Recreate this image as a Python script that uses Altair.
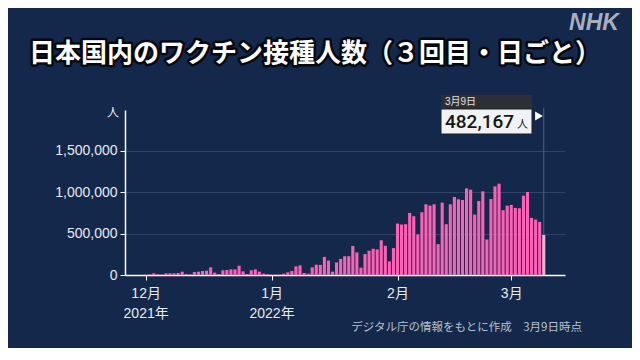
import altair as alt
import pandas as pd

# ---- data ----
start_date = "2021-12-01"
dec_values = [3000, 5000, 20000, 8000, 4000, 20000, 20000, 20000, 24000, 40000,
              12000, 6000, 36000, 40000, 48000, 52000, 92000, 28000, 12000, 56000,
              60000, 68000, 68000, 112000, 44000, 12000, 56000, 68000, 40000, 16000, 8000]
jan_values = [2000, 2000, 4000, 16000, 32000, 48000, 104000, 116000, 24000, 16000,
              92000, 124000, 122000, 218000, 174000, 40000, 152000, 194000, 226000, 226000,
              350000, 272000, 88000, 252000, 292000, 316000, 308000, 420000, 352000, 164000, 324000]
feb_values = [620000, 608000, 612000, 748000, 708000, 488000, 756000, 852000, 836000, 852000,
              372000, 872000, 612000, 852000, 940000, 912000, 904000, 1044000, 1028000, 728000,
              892000, 1008000, 428000, 916000, 1068000, 1100000, 780000, 836000]
mar_values = [844000, 808000, 804000, 956000, 1000000, 688000, 668000, 640000, 482167]

y_ticks = [0, 500000, 1000000, 1500000]
month_ticks = ["2021-12-01", "2022-01-01", "2022-02-01", "2022-03-01"]

title_text = "日本国内のワクチン接種人数（３回目・日ごと）"
source_text = "デジタル庁の情報をもとに作成　3月9日時点"
unit_text = "人"
logo_text = "NHK"
callout_date = "3月9日"
callout_value = "482,167"

values = dec_values + jan_values + feb_values + mar_values
dates = pd.date_range(start_date, periods=len(values), freq="D")
df = pd.DataFrame({
    "date": [d.strftime("%Y-%m-%dT00:00:00Z") for d in dates],
    "value": values,
    "hl": ["n"] * (len(values) - 1) + ["y"],
})
last = df.iloc[[-1]].reset_index(drop=True)

def ms(s):
    return int(pd.Timestamp(s).value // 10**6)

x_domain = [ms("2021-11-27T03:36:00Z"), ms("2022-03-13T00:00:00Z")]
FONT = "Liberation Sans, Noto Sans CJK JP"

xenc = alt.X(
    "date:T",
    scale=alt.Scale(type="utc", domain=x_domain),
    axis=alt.Axis(
        title=None,
        values=[ms(m + "T00:00:00Z") for m in month_ticks],
        labelExpr="[utcFormat(datum.value, '%-m') + '月', utcmonth(datum.value) == 11 ? '2021年' : (utcmonth(datum.value) == 0 ? '2022年' : '')]",
        grid=False,
        domainColor="#ffffff",
        domainWidth=1.5,
        tickColor="#ffffff",
        tickSize=5,
        labelColor="#e8ebf0",
        labelFontSize=14,
        labelFont=FONT,
        labelPadding=6,
        labelLineHeight=20,
        labelAlign="center",
        labelBaseline="top",
    ),
)
yenc = alt.Y(
    "value:Q",
    scale=alt.Scale(domain=[0, 1988000], nice=False, zero=True),
    axis=alt.Axis(
        title=None,
        values=y_ticks,
        format=",d",
        grid=True,
        gridColor="#2c4468",
        gridWidth=1,
        domainColor="#ffffff",
        domainWidth=1.5,
        tickColor="#ffffff",
        tickSize=5,
        labelColor="#e8ebf0",
        labelFontSize=14,
        labelFont=FONT,
        labelPadding=3,
    ),
)

rule = alt.Chart(last).mark_rule(color="#53627a", strokeWidth=1).encode(
    x=xenc, y=yenc, y2=alt.value(-2)
)

bars = alt.Chart(df).mark_bar(size=3.1).encode(
    x=xenc,
    y=yenc,
    color=alt.Color("hl:N", scale=alt.Scale(domain=["n", "y"], range=["#fb62b6", "#f7b0d4"]), legend=None),
)

ann = pd.DataFrame({"a": [0]})

hdr = alt.Chart(ann).mark_rect(color="#2c3036").encode(
    x=alt.value(316), x2=alt.value(407), y=alt.value(-15), y2=alt.value(-1)
)
box = alt.Chart(ann).mark_rect(fill="#f1f2f4", stroke="#1d2024", strokeWidth=1).encode(
    x=alt.value(316), x2=alt.value(407), y=alt.value(-1), y2=alt.value(24)
)
hdr_txt = alt.Chart(ann).mark_text(align="left", baseline="middle", fontSize=10, color="#e0e0e0", font=FONT).encode(
    x=alt.value(320), y=alt.value(-8), text=alt.value(callout_date)
)
num_txt = alt.Chart(ann).mark_text(align="left", baseline="middle", fontSize=19, fontWeight=500, color="#151515",
                                   font="Roboto, Liberation Sans").encode(
    x=alt.value(320), y=alt.value(12), text=alt.value(callout_value)
)
num_unit = alt.Chart(ann).mark_text(align="left", baseline="middle", fontSize=11, color="#151515", font="Noto Sans CJK JP").encode(
    x=alt.value(392), y=alt.value(15), text=alt.value(unit_text)
)
flag = alt.Chart(ann).mark_point(shape="triangle-right", filled=True, color="#ffffff", size=80, opacity=1).encode(
    x=alt.value(414), y=alt.value(6)
)
unit_lbl = alt.Chart(ann).mark_text(align="center", baseline="middle", fontSize=12, color="#e8ebf0", font="Noto Sans CJK JP").encode(
    x=alt.value(-12), y=alt.value(3), text=alt.value(unit_text)
)
title_bg = alt.Chart(ann).mark_text(align="center", baseline="middle", fontSize=26, fontWeight="bold",
                                    font="Noto Sans CJK JP", color="#ffffff", stroke="#05080d",
                                    strokeWidth=5, strokeJoin="round").encode(
    x=alt.value(190), y=alt.value(-56), text=alt.value(title_text)
)
title_fg = alt.Chart(ann).mark_text(align="center", baseline="middle", fontSize=26, fontWeight="bold",
                                    font="Noto Sans CJK JP", color="#ffffff").encode(
    x=alt.value(190), y=alt.value(-56), text=alt.value(title_text)
)
logo = alt.Chart(ann).mark_text(align="center", baseline="middle", fontSize=23, fontWeight="bold",
                                fontStyle="italic", font="Liberation Sans", color="#a7afc0").encode(
    x=alt.value(469), y=alt.value(-87), text=alt.value(logo_text)
)
source = alt.Chart(ann).mark_text(align="right", baseline="middle", fontSize=11.5, color="#b9c0cc",
                                  font="Noto Sans CJK JP").encode(
    x=alt.value(457), y=alt.value(218), text=alt.value(source_text)
)

chart = alt.layer(
    rule, bars, hdr, box, hdr_txt, num_txt, num_unit, flag, unit_lbl,
    title_bg, title_fg, logo, source
).properties(
    width=440,
    height=165,
    background="#13284a",
    autosize=alt.AutoSizeParams(type="none"),
    padding={"left": 117, "top": 102, "right": 67, "bottom": 73},
).configure_view(stroke=None)

chart.save("out.html", embed_options={"renderer": "svg", "actions": False})
